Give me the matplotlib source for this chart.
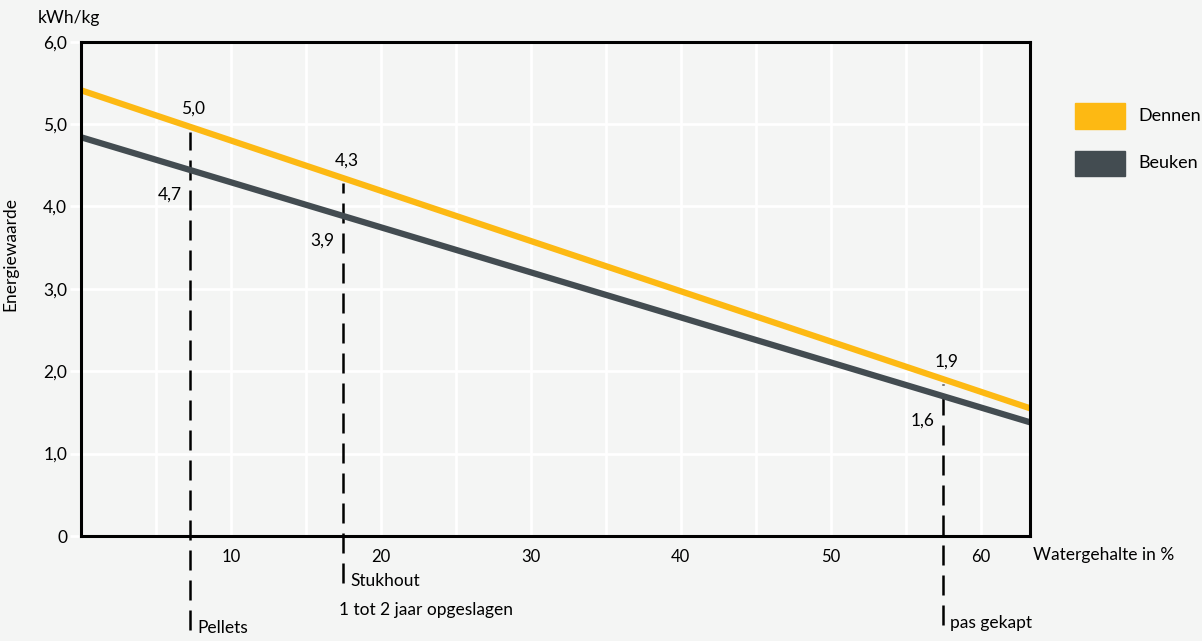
import matplotlib.pyplot as plt

plt.rcParams['font.family'] = ['Lato', 'DejaVu Sans']

# Energiewaarde (kWh/kg) als functie van het watergehalte (%)
watergehalte = [0, 63.3]
dennen = [5.41, 1.55]
beuken = [4.84, 1.38]

# markeringen: watergehalte, label, onderkant van de stippellijn
markers_x = [7.3, 17.5, 57.5]
markers_label = ['Pellets', 'Stukhout', 'pas gekapt']
markers_bottom = [-1.14, -0.57, -1.08]
labels_dennen = ['5,0', '4,3', '1,9']
labels_beuken = ['4,7', '3,9', '1,6']

x_ticks = [10, 20, 30, 40, 50, 60]
y_ticks = [0, 1, 2, 3, 4, 5, 6]
y_ticklabels = ['0', '1,0', '2,0', '3,0', '4,0', '5,0', '6,0']

geel = '#fdb913'
grijs = '#434c51'
achtergrond = '#f4f5f4'


def interp(x, xs, ys):
    return ys[0] + (ys[1] - ys[0]) * (x - xs[0]) / (xs[1] - xs[0])


fig = plt.figure(figsize=(12.02, 6.41), dpi=100, facecolor=achtergrond)
ax = fig.add_axes([0.0674, 0.1638, 0.857 - 0.0674, 0.935 - 0.1638])
ax.set_facecolor(achtergrond)

ax.set_xlim(0, 63.3)
ax.set_ylim(0, 6)

# witte rasterlijnen
for v in range(5, 63, 5):
    ax.axvline(v, color='white', lw=2, zorder=1)
for v in y_ticks[1:-1]:
    ax.axhline(v, color='white', lw=2, zorder=1)

ax.plot(watergehalte, dennen, color=geel, lw=4.5, solid_capstyle='butt', zorder=3)
ax.plot(watergehalte, beuken, color=grijs, lw=4.5, solid_capstyle='butt', zorder=3)

for x, lab, bot, ld, lb in zip(markers_x, markers_label, markers_bottom,
                               labels_dennen, labels_beuken):
    top = interp(x, watergehalte, dennen)
    # van onder naar boven tekenen zodat de streepjes onderaan netjes eindigen
    ax.plot([x, x], [bot, top - 0.06], color='black', lw=1.8, dashes=(8, 4),
            clip_on=False, zorder=2)
    ax.text(x + 0.2, top + 0.12, ld, ha='center', va='bottom', fontsize=12.5)
    yb = interp(x, watergehalte, beuken)
    ax.text(x - 0.6, yb - 0.2, lb, ha='right', va='top', fontsize=12.5)
    ax.text(x + 0.45, bot + 0.02, lab, ha='left', va='center', fontsize=12.5,
            clip_on=False)

ax.text(markers_x[1] + 5.5, -0.90, '1 tot 2 jaar opgeslagen',
        ha='center', va='center', fontsize=12.5, clip_on=False)

for s in ax.spines.values():
    s.set_linewidth(2.2)
    s.set_color('black')
    s.set_zorder(4)

ax.set_xticks(x_ticks)
ax.set_xticklabels([str(t) for t in x_ticks], fontsize=12)
ax.set_yticks(y_ticks)
ax.set_yticklabels(y_ticklabels, fontsize=12.5)
ax.tick_params(axis='x', length=0, pad=9)
ax.tick_params(axis='y', length=8, width=2, color='white', pad=2)

ax.set_ylabel('Energiewaarde', fontsize=12.5, labelpad=6)
ax.yaxis.set_label_coords(-0.066, 0.57)
fig.text(38 / 1202, 1 - 18 / 641, 'kWh/kg', ha='left', va='center', fontsize=12.5)
fig.text(1033 / 1202, 1 - 555 / 641, 'Watergehalte in %', ha='left', va='center',
         fontsize=12.5)

# legenda
for i, (naam, kleur) in enumerate([('Dennen', geel), ('Beuken', grijs)]):
    yc = 116 + i * 47
    fig.patches.append(plt.Rectangle((1075 / 1202, 1 - (yc + 12.5) / 641),
                                     50 / 1202, 25 / 641, color=kleur,
                                     transform=fig.transFigure))
    fig.text(1138 / 1202, 1 - yc / 641, naam, ha='left', va='center', fontsize=13)

fig.savefig('out.png', dpi=100, facecolor=achtergrond)
